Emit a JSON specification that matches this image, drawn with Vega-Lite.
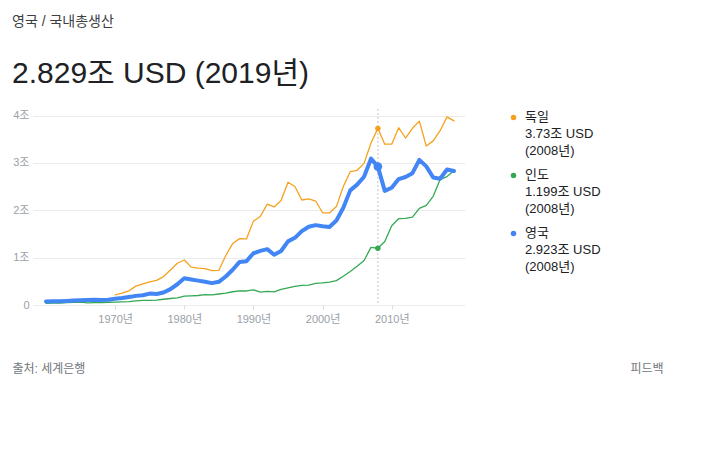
{
  "$schema": "https://vega.github.io/schema/vega-lite/v6.json",
  "autosize": "none",
  "width": 432,
  "height": 196,
  "padding": {"left": 33, "top": 109, "right": 256, "bottom": 150},
  "background": "white",
  "title": {
    "text": "영국 / 국내총생산",
    "subtitle": "2.829조 USD (2019년)",
    "anchor": "start",
    "frame": "group",
    "dx": -21,
    "offset": 20,
    "font": "Liberation Sans, Noto Sans CJK KR, sans-serif",
    "fontSize": 14,
    "fontWeight": "normal",
    "color": "#3c4043",
    "subtitleFont": "Liberation Sans, Noto Sans CJK KR, sans-serif",
    "subtitleFontSize": 30,
    "subtitleColor": "#202124",
    "subtitlePadding": 30
  },
  "data": {
    "values": [
      {"year": 1960, "인도": 0.0370, "영국": 0.0734},
      {"year": 1961, "인도": 0.0392, "영국": 0.0777},
      {"year": 1962, "인도": 0.0422, "영국": 0.0815},
      {"year": 1963, "인도": 0.0484, "영국": 0.0868},
      {"year": 1964, "인도": 0.0564, "영국": 0.0944},
      {"year": 1965, "인도": 0.0592, "영국": 0.1012},
      {"year": 1966, "인도": 0.0459, "영국": 0.1075},
      {"year": 1967, "인도": 0.0501, "영국": 0.1113},
      {"year": 1968, "인도": 0.0531, "영국": 0.1049},
      {"year": 1969, "인도": 0.0584, "영국": 0.1127},
      {"year": 1970, "독일": 0.2155, "인도": 0.0624, "영국": 0.1306},
      {"year": 1971, "독일": 0.2497, "인도": 0.0674, "영국": 0.1481},
      {"year": 1972, "독일": 0.2998, "인도": 0.0710, "영국": 0.1698},
      {"year": 1973, "독일": 0.3984, "인도": 0.0855, "영국": 0.1929},
      {"year": 1974, "독일": 0.4458, "인도": 0.0995, "영국": 0.2063},
      {"year": 1975, "독일": 0.4906, "인도": 0.0989, "영국": 0.2412},
      {"year": 1976, "독일": 0.5198, "인도": 0.1025, "영국": 0.2321},
      {"year": 1977, "독일": 0.6001, "인도": 0.1214, "영국": 0.2632},
      {"year": 1978, "독일": 0.7409, "인도": 0.1370, "영국": 0.3357},
      {"year": 1979, "독일": 0.8816, "인도": 0.1526, "영국": 0.4384},
      {"year": 1980, "독일": 0.9501, "인도": 0.1864, "영국": 0.5643},
      {"year": 1981, "독일": 0.8004, "인도": 0.1935, "영국": 0.5401},
      {"year": 1982, "독일": 0.7768, "인도": 0.2008, "영국": 0.5150},
      {"year": 1983, "독일": 0.7704, "인도": 0.2182, "영국": 0.4895},
      {"year": 1984, "독일": 0.7252, "인도": 0.2123, "영국": 0.4619},
      {"year": 1985, "독일": 0.7324, "인도": 0.2325, "영국": 0.4893},
      {"year": 1986, "독일": 1.0462, "인도": 0.2488, "영국": 0.6016},
      {"year": 1987, "독일": 1.2978, "인도": 0.2797, "영국": 0.7450},
      {"year": 1988, "독일": 1.4016, "인도": 0.2967, "영국": 0.9102},
      {"year": 1989, "독일": 1.3983, "인도": 0.2961, "영국": 0.9262},
      {"year": 1990, "독일": 1.7715, "인도": 0.3209, "영국": 1.0932},
      {"year": 1991, "독일": 1.8686, "인도": 0.2706, "영국": 1.1425},
      {"year": 1992, "독일": 2.1315, "인도": 0.2883, "영국": 1.1795},
      {"year": 1993, "독일": 2.0713, "인도": 0.2792, "영국": 1.0616},
      {"year": 1994, "독일": 2.2059, "인도": 0.3278, "영국": 1.1404},
      {"year": 1995, "독일": 2.5918, "인도": 0.3602, "영국": 1.3443},
      {"year": 1996, "독일": 2.5039, "인도": 0.3928, "영국": 1.4191},
      {"year": 1997, "독일": 2.2182, "인도": 0.4158, "영국": 1.5604},
      {"year": 1998, "독일": 2.2400, "인도": 0.4213, "영국": 1.6535},
      {"year": 1999, "독일": 2.1966, "인도": 0.4587, "영국": 1.6875},
      {"year": 2000, "독일": 1.9477, "인도": 0.4684, "영국": 1.6650},
      {"year": 2001, "독일": 1.9453, "인도": 0.4852, "영국": 1.6493},
      {"year": 2002, "독일": 2.0786, "인도": 0.5147, "영국": 1.7851},
      {"year": 2003, "독일": 2.5017, "인도": 0.6076, "영국": 2.0547},
      {"year": 2004, "독일": 2.8148, "인도": 0.7090, "영국": 2.4213},
      {"year": 2005, "독일": 2.8460, "인도": 0.8203, "영국": 2.5432},
      {"year": 2006, "독일": 2.9923, "인도": 0.9402, "영국": 2.7084},
      {"year": 2007, "독일": 3.4219, "인도": 1.2167, "영국": 3.0907},
      {"year": 2008, "독일": 3.7302, "인도": 1.1990, "영국": 2.9231},
      {"year": 2009, "독일": 3.3978, "인도": 1.3418, "영국": 2.4105},
      {"year": 2010, "독일": 3.3965, "인도": 1.6756, "영국": 2.4759},
      {"year": 2011, "독일": 3.7442, "인도": 1.8230, "영국": 2.6593},
      {"year": 2012, "독일": 3.5273, "인도": 1.8277, "영국": 2.7043},
      {"year": 2013, "독일": 3.7329, "인도": 1.8567, "영국": 2.7840},
      {"year": 2014, "독일": 3.8836, "인도": 2.0391, "영국": 3.0646},
      {"year": 2015, "독일": 3.3568, "인도": 2.1036, "영국": 2.9278},
      {"year": 2016, "독일": 3.4671, "인도": 2.2948, "영국": 2.6940},
      {"year": 2017, "독일": 3.6822, "인도": 2.6515, "영국": 2.6664},
      {"year": 2018, "독일": 3.9740, "인도": 2.7131, "영국": 2.8609},
      {"year": 2019, "독일": 3.8887, "인도": 2.8355, "영국": 2.8291}
    ]
  },
  "transform": [
    {"fold": ["독일", "인도", "영국"], "as": ["country", "gdp"]},
    {"filter": "isValid(datum.gdp)"}
  ],
  "encoding": {
    "x": {
      "field": "year",
      "type": "quantitative",
      "scale": {"domain": [1958.12, 2020.6], "nice": false, "zero": false},
      "axis": {
        "values": [1970, 1980, 1990, 2000, 2010],
        "labelExpr": "datum.value + '년'",
        "grid": false,
        "domain": false,
        "ticks": true,
        "tickSize": 4,
        "tickColor": "#dadce0",
        "labelPadding": 11,
        "labelColor": "#9aa0a6",
        "labelFontSize": 11,
        "title": "출처: 세계은행",
        "titleX": -21,
        "titleY": 63,
        "titleAlign": "left",
        "titleAnchor": null,
        "titleBaseline": "middle",
        "titleFontSize": 12,
        "titleFontWeight": "normal",
        "titleColor": "#70757a"
      }
    },
    "y": {
      "field": "gdp",
      "type": "quantitative",
      "scale": {"domain": [0, 4.14], "nice": false},
      "axis": {
        "values": [0, 1, 2, 3, 4],
        "labelExpr": "datum.value == 0 ? '0' : datum.value + '조'",
        "grid": true,
        "gridColor": "#ebebeb",
        "domain": false,
        "ticks": false,
        "labelPadding": 4,
        "labelOffset": 7,
        "labelColor": "#9aa0a6",
        "labelFontSize": 11,
        "title": "피드백",
        "titleAngle": 0,
        "titleX": 630,
        "titleY": 259,
        "titleAlign": "right",
        "titleAnchor": null,
        "titleBaseline": "middle",
        "titleFontSize": 12,
        "titleFontWeight": "normal",
        "titleColor": "#70757a"
      }
    }
  },
  "layer": [
    {
      "transform": [{"filter": "datum.year == 2008 && datum.country == '영국'"}],
      "mark": {"type": "rule", "color": "#c4c4c4", "strokeDash": [2, 2], "strokeWidth": 1},
      "encoding": {"y": null}
    },
    {
      "transform": [{"filter": "datum.country != '영국'"}],
      "mark": {"type": "line", "strokeWidth": 1.3, "strokeJoin": "round", "strokeCap": "round"},
      "encoding": {
        "stroke": {"field": "country", "type": "nominal", "scale": {"range": ["#F6A11E", "#4285F4", "#34A853"]}, "legend": null}
      }
    },
    {
      "transform": [{"filter": "datum.country == '영국'"}],
      "mark": {"type": "line", "strokeWidth": 4, "strokeJoin": "round", "strokeCap": "round"},
      "encoding": {
        "stroke": {"field": "country", "type": "nominal", "legend": null}
      }
    },
    {
      "transform": [{"filter": "datum.year == 2008 && datum.country != '영국'"}],
      "mark": {"type": "point", "filled": true, "opacity": 1, "shape": "circle", "size": 30},
      "encoding": {
        "color": {
          "field": "country",
          "type": "nominal",
          "scale": {"domain": ["독일", "인도", "영국"], "range": ["#F6A11E", "#34A853", "#4285F4"]},
          "legend": {
            "orient": "none",
            "legendX": 474,
            "legendY": 2,
            "title": null,
            "symbolType": "circle",
            "symbolSize": 30,
            "labelOffset": 5,
            "labelFontSize": 13,
            "labelColor": "#202124",
            "labelFont": "Liberation Sans, Noto Sans CJK KR, sans-serif",
            "labelBaseline": "top",
            "labelLimit": 200,
            "rowPadding": 10,
            "labelExpr": "datum.label == '독일' ? ['독일', '3.73조 USD', '(2008년)'] : datum.label == '인도' ? ['인도', '1.199조 USD', '(2008년)'] : ['영국', '2.923조 USD', '(2008년)']"
          }
        }
      }
    },
    {
      "transform": [{"filter": "datum.year == 2008 && datum.country == '영국'"}],
      "mark": {"type": "point", "filled": true, "opacity": 1, "shape": "circle", "size": 75},
      "encoding": {
        "color": {"field": "country", "type": "nominal"}
      }
    }
  ],
  "config": {
    "view": {"stroke": null},
    "font": "Liberation Sans, Noto Sans CJK KR, sans-serif",
    "style": {"guide-label": {"lineHeight": 17, "dy": -7}}
  }
}
